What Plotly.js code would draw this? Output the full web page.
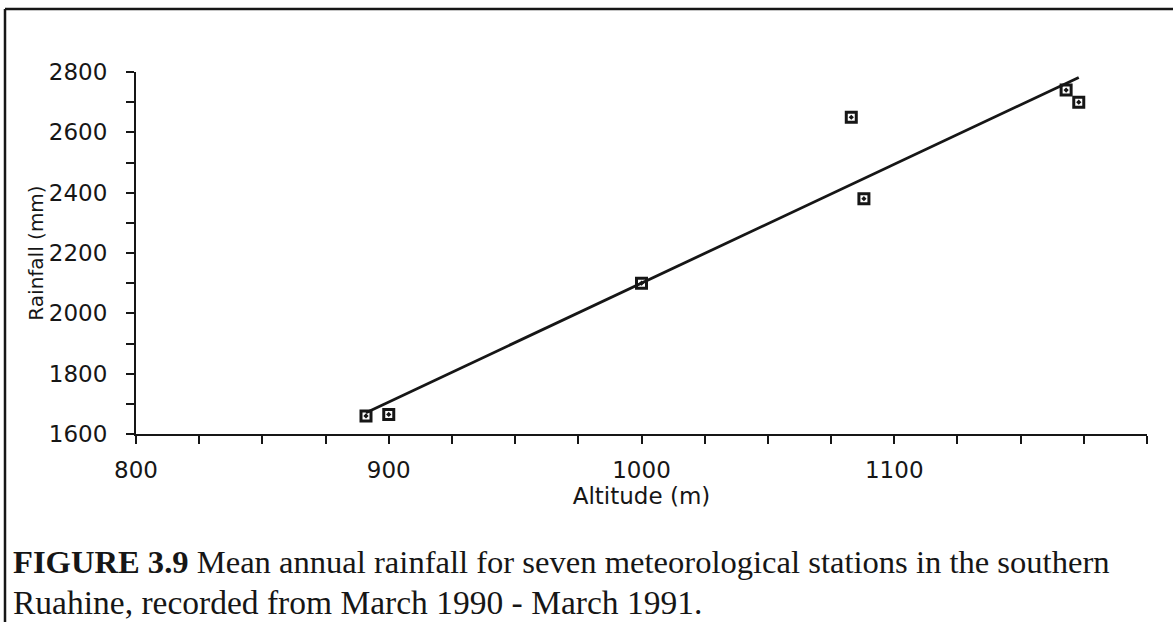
<!DOCTYPE html>
<html>
<head>
<meta charset="utf-8">
<script src="https://cdn.plot.ly/plotly-3.0.1.min.js"></script>
<style>
html,body{margin:0;padding:0;background:#fff;}
#chart{width:1173px;height:622px;}
</style>
</head>
<body>
<div id="chart"></div>
<script>
// Station data
var altitude = [891, 900, 1000, 1083, 1088, 1168, 1173];   // m
var rainfall = [1660, 1665, 2100, 2650, 2380, 2740, 2700]; // mm

var xTickVals = [800, 900, 1000, 1100, 1200];
var xTickText = ['800', '900', '1000', '1100', '1200'];
var yTickVals = [1600, 1800, 2000, 2200, 2400, 2600, 2800];
var yTickText = ['1600', '1800', '2000', '2200', '2400', '2600', '2800'];

var captionBold = 'FIGURE 3.9';
var captionLine1 = ' Mean annual rainfall for seven meteorological stations in the southern';
var captionLine2 = 'Ruahine, recorded from March 1990 - March 1991.';

// least-squares regression line computed from the data
function fit(xs, ys) {
  var n = xs.length, mx = 0, my = 0;
  for (var i = 0; i < n; i++) { mx += xs[i]; my += ys[i]; }
  mx /= n; my /= n;
  var sxy = 0, sxx = 0;
  for (var j = 0; j < n; j++) { sxy += (xs[j]-mx)*(ys[j]-my); sxx += (xs[j]-mx)*(xs[j]-mx); }
  var b = sxy / sxx, a = my - b*mx;
  return {a: a, b: b};
}
var f = fit(altitude, rainfall);
var xmin = Math.min.apply(null, altitude), xmax = Math.max.apply(null, altitude);
var fitX = [xmin, xmax];
var fitY = fitX.map(function(x){ return f.a + f.b*x; });

var ink = '#161616';

var traces = [
  {x: fitX, y: fitY, mode: 'lines', type: 'scatter',
   line: {color: ink, width: 2.8}, hoverinfo: 'skip', showlegend: false},
  {x: altitude, y: rainfall, mode: 'markers', type: 'scatter',
   marker: {symbol: 'square-open-dot', size: 10, color: ink, line: {color: ink, width: 3}},
   showlegend: false}
];

var W = 1173, H = 622, L = 136, R = 26, T = 72, B = 188;
var pw = W - L - R, ph = H - T - B;
function px(xp){ return (xp - L) / pw; }
function py(yp){ return (H - B - yp) / ph; }

var layout = {
  width: W, height: H,
  margin: {l: L, r: R, t: T, b: B},
  paper_bgcolor: '#ffffff', plot_bgcolor: '#ffffff',
  font: {family: 'DejaVu Sans, sans-serif', color: ink},
  xaxis: {
    range: [800, 1200], showgrid: false, zeroline: false,
    showline: true, linecolor: ink, linewidth: 2,
    tickmode: 'array', tickvals: xTickVals, ticktext: xTickText,
    ticks: 'outside', ticklen: 8, tickwidth: 2, tickcolor: ink,
    minor: {dtick: 25, tick0: 800, ticks: 'outside', ticklen: 8, tickwidth: 2, tickcolor: ink, showgrid: false},
    tickfont: {size: 23, family: 'DejaVu Sans, sans-serif', color: ink},
    ticklabelstandoff: 6,
    title: {text: 'Altitude (m)', font: {size: 23, family: 'DejaVu Sans, sans-serif', color: ink}, standoff: 4},
    automargin: false
  },
  yaxis: {
    range: [1600, 2800], showgrid: false, zeroline: false,
    showline: true, linecolor: ink, linewidth: 2,
    tickmode: 'array', tickvals: yTickVals, ticktext: yTickText,
    ticks: 'outside', ticklen: 8, tickwidth: 2, tickcolor: ink,
    minor: {dtick: 100, tick0: 1600, ticks: 'outside', ticklen: 8, tickwidth: 2, tickcolor: ink, showgrid: false},
    tickfont: {size: 23, family: 'DejaVu Sans, sans-serif', color: ink},
    ticklabelstandoff: 14,
    title: {text: 'Rainfall (mm)', font: {size: 20, family: 'DejaVu Sans, sans-serif', color: ink}, standoff: 0},
    automargin: false
  },
  shapes: [
    {type: 'line', xref: 'paper', yref: 'paper', x0: px(5), x1: px(1180), y0: py(9), y1: py(9),
     line: {color: ink, width: 2.5}},
    {type: 'line', xref: 'paper', yref: 'paper', x0: px(5), x1: px(5), y0: py(9), y1: py(630),
     line: {color: ink, width: 2.5}}
  ],
  annotations: [
    {xref: 'paper', yref: 'paper', x: px(11), y: py(562), xanchor: 'left', yanchor: 'middle',
     showarrow: false, align: 'left',
     text: '<b>' + captionBold + '</b>' + captionLine1,
     font: {family: 'Liberation Serif, Times New Roman, serif', size: 32.6, color: ink}},
    {xref: 'paper', yref: 'paper', x: px(11), y: py(602), xanchor: 'left', yanchor: 'middle',
     showarrow: false, align: 'left',
     text: captionLine2,
     font: {family: 'Liberation Serif, Times New Roman, serif', size: 33.5, color: ink}}
  ]
};

Plotly.newPlot('chart', traces, layout, {displayModeBar: false, staticPlot: true});
</script>
</body>
</html>
